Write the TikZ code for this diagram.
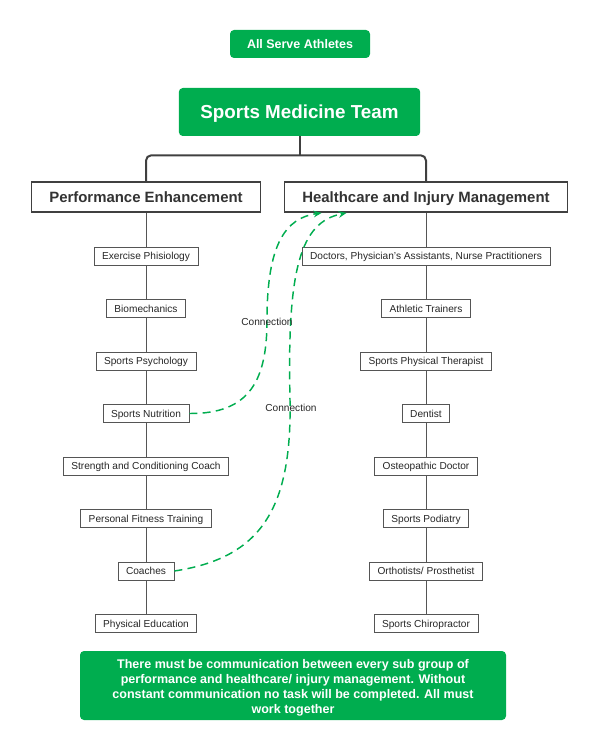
\documentclass[tikz,border=0pt]{standalone}
\usepackage{fontspec}
\setmainfont{Liberation Sans}
\usetikzlibrary{arrows.meta,calc}
\definecolor{teamgreen}{RGB}{0,173,79}
\definecolor{linegray}{RGB}{85,85,85}
\begin{document}
\begin{tikzpicture}[x=0.75pt,y=-0.75pt,
  greenbox/.style={fill=teamgreen,rounded corners=3pt,text=white,inner sep=0pt},
  headbox/.style={draw=black!75,line width=1.4pt,fill=white,minimum height=22.5pt,inner sep=0pt,
    text height=8pt,text depth=0pt,font=\fontsize{11.2}{13}\selectfont\bfseries,text=black!80},
  itembox/.style={draw=linegray,fill=white,line width=0.6pt,minimum height=13.5pt,inner xsep=6pt,inner ysep=0pt,
    text height=5.4pt,text depth=0pt,font=\fontsize{7.6}{9}\selectfont,text=black!85},
  treeline/.style={black!75,line width=1.5pt},
  colline/.style={linegray,line width=0.6pt},
  connect/.style={teamgreen,line width=1.1pt,dash pattern=on 6pt off 4pt,-{Stealth[length=6pt,width=5pt]}},
  connlabel/.style={font=\fontsize{7.6}{9}\selectfont,text=black!85,inner sep=1pt}]
  \useasboundingbox (0,0) rectangle (600,752);

  \node[greenbox,minimum width=105pt,minimum height=21pt,text height=6.7pt,text depth=0pt,
        font=\fontsize{9.35}{11}\selectfont\bfseries] (athletes) at (300,44) {All Serve Athletes};
  \node[greenbox,minimum width=181pt,minimum height=36pt,text height=10.1pt,text depth=0pt,
        font=\fontsize{14.1}{16}\selectfont\bfseries] (team) at (299.5,112) {Sports Medicine Team};

  \node[headbox,minimum width=171.75pt] (perf) at (146,197) {Performance Enhancement};
  \node[headbox,minimum width=212.25pt] (health) at (426,197) {Healthcare and Injury Management};

  \draw[treeline] (team.south) -- ($(team.south)+(0,19)$);
  \draw[treeline,rounded corners=4pt] (perf.north) |- ($(team.south)+(0,19)$) -| (health.north);

  % performance side
  \foreach \name/\txt/\yy in {l1/Exercise Phisiology/256, l2/Biomechanics/308.5, l3/Sports Psychology/361,
      l4/Sports Nutrition/413.5, l5/Strength and Conditioning Coach/466, l6/Personal Fitness Training/518.5,
      l7/Coaches/571, l8/Physical Education/623.5}
    \node[itembox] (\name) at (146,\yy) {\txt};
  \foreach \a/\b in {perf/l1, l1/l2, l2/l3, l3/l4, l4/l5, l5/l6, l6/l7, l7/l8}
    \draw[colline] (\a.south) -- (\b.north);

  % healthcare side
  \foreach \name/\txt/\yy in {r1/{Doctors, Physician's Assistants, Nurse Practitioners}/256, r2/Athletic Trainers/308.5,
      r3/Sports Physical Therapist/361, r4/Dentist/413.5, r5/Osteopathic Doctor/466, r6/Sports Podiatry/518.5,
      r7/{Orthotists/ Prosthetist}/571, r8/Sports Chiropractor/623.5}
    \node[itembox] (\name) at (426,\yy) {\txt};
  \foreach \a/\b in {health/r1, r1/r2, r2/r3, r3/r4, r4/r5, r5/r6, r6/r7, r7/r8}
    \draw[colline] (\a.south) -- (\b.north);

  % connections
  \draw[connect] (l4.east) .. controls (250,414) and (267,380) .. (267,320)
     .. controls (267,245) and (285,218) .. ($(health.south west)+(38,0)$);
  \draw[connect] (l7.east) .. controls (260,558) and (292,510) .. (290,400)
     .. controls (287,270) and (300,222) .. ($(health.south west)+(63,0)$);
  \node[connlabel] (conn1) at (267,322) {Connection};
  \node[connlabel] (conn2) at (291,408) {Connection};

  \fill[teamgreen,rounded corners=3pt] (80,651) rectangle (506,720);
  \node[text=white,align=center,inner sep=0pt,font=\fontsize{9.4}{11.3}\selectfont\bfseries] (note) at (293,688)
    {There must be communication between every sub group of\\
     performance and healthcare/ injury management. Without\\
     constant communication no task will be completed. All must\\
     work together};
\end{tikzpicture}
\end{document}
